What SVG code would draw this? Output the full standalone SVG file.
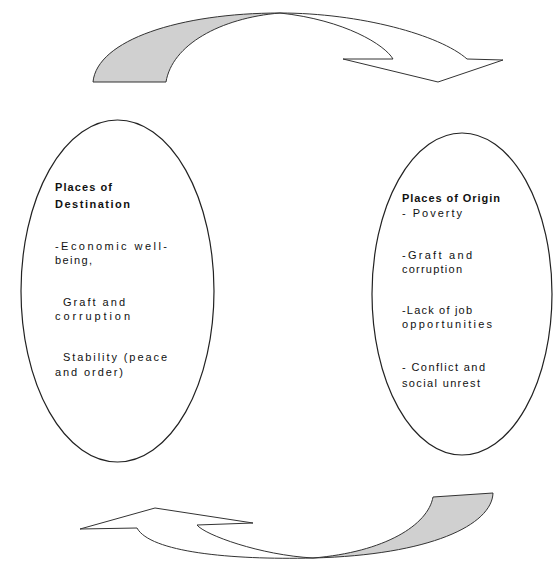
<svg xmlns="http://www.w3.org/2000/svg" width="560" height="563" viewBox="0 0 560 563">
  <style>
    .node { fill: #ffffff; stroke: #222222; stroke-width: 1.2; }
    .face { fill: #ffffff; stroke: #333333; stroke-width: 1; stroke-linejoin: miter; }
    .shade { fill: #d0d0d0; stroke: #333333; stroke-width: 1; }
    .t { font-family: "Liberation Sans", Arial, sans-serif; font-size: 11px; fill: #111111; }
    .b { font-weight: bold; }
  </style>
  <rect width="560" height="563" fill="#ffffff"/>

  <g id="connectors">
    <g id="arrow-top">
      <path class="shade" d="M93,82 C97,40 180,13 280,13 C220,18 172,45 166,82 Z"/>
      <path class="face" d="M280,13 C360,13 440,35 467,59 L503,60 L438,82 L343,59 L393,59 C385,45 345,20 280,13 Z"/>
    </g>
    <g id="arrow-bottom">
      <path class="shade" d="M433,497 L493,493 C492,525 430,555 313,558 C385,552 428,525 433,497 Z"/>
      <path class="face" d="M313,558 C230,560 150,552 137,528 L80,529 L155,508 L253,523 L197,525 C205,535 260,555 313,558 Z"/>
    </g>
  </g>

  <g id="destination">
    <ellipse class="node" cx="117.5" cy="291" rx="96.5" ry="171"/>
    <text class="t b" x="55" y="191" textLength="57" lengthAdjust="spacing">Places of</text>
    <text class="t b" x="55" y="208" textLength="75" lengthAdjust="spacing">Destination</text>
    <text class="t" x="55" y="250" textLength="112" lengthAdjust="spacing">-Economic well-</text>
    <text class="t" x="55" y="264" textLength="37" lengthAdjust="spacing">being,</text>
    <text class="t" x="63" y="306" textLength="62" lengthAdjust="spacing">Graft and</text>
    <text class="t" x="55" y="320" textLength="75" lengthAdjust="spacing">corruption</text>
    <text class="t" x="63" y="361" textLength="104" lengthAdjust="spacing">Stability (peace</text>
    <text class="t" x="55" y="376" textLength="68" lengthAdjust="spacing">and order)</text>
  </g>

  <g id="origin">
    <ellipse class="node" cx="462" cy="294" rx="90" ry="161"/>
    <text class="t b" x="402" y="202" textLength="98" lengthAdjust="spacing">Places of Origin</text>
    <text class="t" x="402" y="217" textLength="60" lengthAdjust="spacing">- Poverty</text>
    <text class="t" x="402" y="259" textLength="70" lengthAdjust="spacing">-Graft and</text>
    <text class="t" x="402" y="273" textLength="60" lengthAdjust="spacing">corruption</text>
    <text class="t" x="402" y="314" textLength="70" lengthAdjust="spacing">-Lack of job</text>
    <text class="t" x="402" y="328" textLength="90" lengthAdjust="spacing">opportunities</text>
    <text class="t" x="402" y="371" textLength="83" lengthAdjust="spacing">- Conflict and</text>
    <text class="t" x="402" y="387" textLength="78" lengthAdjust="spacing">social unrest</text>
  </g>
</svg>
